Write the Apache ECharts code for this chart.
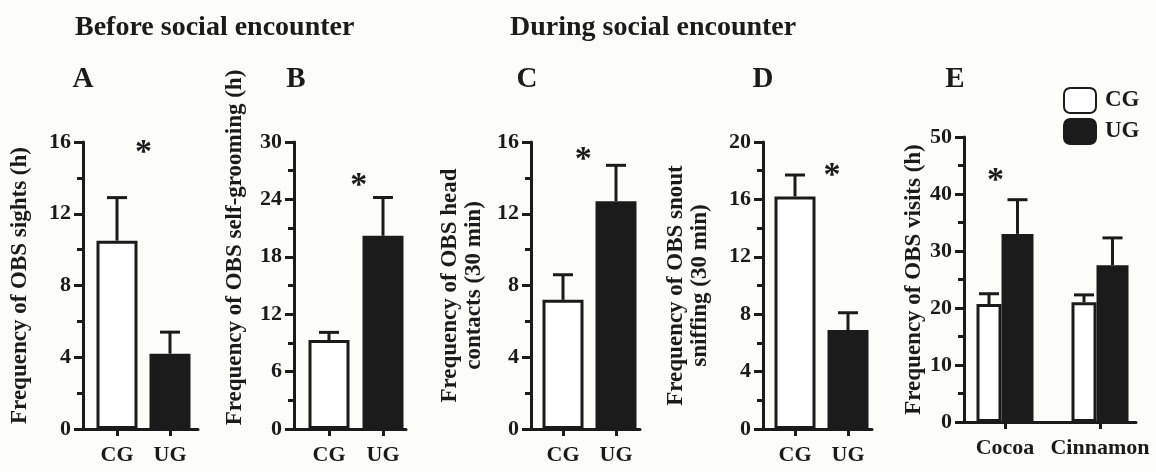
<!DOCTYPE html>
<html lang="en">
<head>
<meta charset="UTF-8">
<title>OBS behaviour</title>
<script src="https://cdn.jsdelivr.net/npm/echarts@6/dist/echarts.min.js"></script>
<style>
    html, body { margin: 0; padding: 0; background: #fcfcf8; }
    #main { width: 1156px; height: 472px; }
</style>
</head>
<body>
<div id="main"></div>
<script type="text/javascript">

    // values (mean and top of the error bar)
    var groups = ['CG', 'UG'];
    var odors = ['Cocoa', 'Cinnamon'];

    var sightsMean = [10.5, 4.2];
    var sightsTop = [12.9, 5.4];
    var groomMean = [9.3, 20.2];
    var groomTop = [10.1, 24.2];
    var headMean = [7.2, 12.7];
    var headTop = [8.6, 14.7];
    var snoutMean = [16.2, 6.9];
    var snoutTop = [17.7, 8.1];

    var visitsCG = [20.7, 21.0];
    var visitsCGTop = [22.5, 22.3];
    var visitsUG = [33.0, 27.5];
    var visitsUGTop = [39.0, 32.3];

    // significance stars [x in group units, y in axis units]
    var stars = [[0.5, 15.4], [0.55, 25.4], [0.38, 15.0], [0.7, 17.6], [-0.1, 42.2]];

    var ink = '#1b1b1b';
    var serif = '"Liberation Serif", "Times New Roman", serif';

    // layout of each panel in pixels: y axis x, end of x axis, first group centre, group step
    var panels = [
        {axis: 83, end: 198, c1: 117, step: 53, top: 142, bottom: 429, max: 16, interval: 4,
            name: 'Frequency of OBS sights (h)', gap: 51, pad: 0, mean: sightsMean, hi: sightsTop},
        {axis: 294, end: 406, c1: 329, step: 54, top: 142, bottom: 429, max: 30, interval: 6,
            name: 'Frequency of OBS self-grooming (h)', gap: 47, pad: 76, mean: groomMean, hi: groomTop},
        {axis: 531, end: 640, c1: 563, step: 53, top: 142, bottom: 429, max: 16, interval: 4,
            name: 'Frequency of OBS head\ncontacts (30 min)', gap: 45, pad: 0, mean: headMean, hi: headTop},
        {axis: 763, end: 872, c1: 795, step: 53, top: 142, bottom: 429, max: 20, interval: 4,
            name: 'Frequency of OBS snout\nsniffing (30 min)', gap: 51, pad: 0, mean: snoutMean, hi: snoutTop},
        {axis: 964, end: 1136, c1: 1005, step: 95, top: 137, bottom: 422, max: 50, interval: 10,
            name: 'Frequency of OBS visits (h)', gap: 31, pad: 0}
    ];

    var grids = [], xAxes = [], yAxes = [], series = [];

    function errorItem(offset) {
        return function (params, api) {
            var base = api.coord([api.value(0), api.value(1)]);
            var tip = api.coord([api.value(0), api.value(2)]);
            var x = base[0] + offset;
            return {
                type: 'group',
                children: [
                    {type: 'line', shape: {x1: x, y1: base[1], x2: x, y2: tip[1]},
                        style: {stroke: ink, lineWidth: 3}},
                    {type: 'line', shape: {x1: x - 10, y1: tip[1], x2: x + 10, y2: tip[1]},
                        style: {stroke: ink, lineWidth: 3}}
                ]
            };
        };
    }

    function starItem(params, api) {
        var p = api.coord([api.value(0), api.value(1)]);
        return {
            type: 'text', x: p[0], y: p[1],
            style: {text: '*', font: 'bold 34px ' + serif, fill: ink, align: 'center', verticalAlign: 'middle'}
        };
    }

    panels.forEach(function (p, i) {
        var labels = i === 4 ? odors : groups;
        grids.push({left: p.axis, top: p.top, width: p.end - p.axis, height: p.bottom - p.top,
            outerBoundsMode: 'none'});
        xAxes.push({
            type: 'value', gridIndex: i,
            min: (p.axis - p.c1) / p.step, max: (p.end - p.c1) / p.step,
            axisLine: {show: true, onZero: false, lineStyle: {color: ink, width: 3}},
            axisTick: {show: true, customValues: [0, 1], length: 7, lineStyle: {color: ink, width: 3}},
            axisLabel: {
                show: true, customValues: [0, 1], margin: 15,
                fontFamily: serif, fontSize: 22, fontWeight: 'bold', color: ink,
                formatter: function (v) { return labels[Math.round(v)]; }
            },
            splitLine: {show: false}
        });
        yAxes.push({
            type: 'value', gridIndex: i, min: 0, max: p.max, interval: p.interval,
            name: p.name, nameLocation: 'middle', nameGap: p.gap,
            nameTextStyle: {fontFamily: serif, fontSize: 23, fontWeight: 'bold', color: ink,
                lineHeight: 24, padding: [0, 0, 0, p.pad]},
            axisLine: {show: true, onZero: false, lineStyle: {color: ink, width: 3}},
            axisTick: {show: true, length: 9, lineStyle: {color: ink, width: 3}},
            minorTick: {show: true, splitNumber: 2, length: 6, lineStyle: {color: ink, width: 3}},
            axisLabel: {margin: 12, fontFamily: serif, fontSize: 22, fontWeight: 'bold', color: ink},
            splitLine: {show: false}
        });

        if (i < 4) {
            series.push({
                type: 'bar', name: 'CG', xAxisIndex: i, yAxisIndex: i, barWidth: 41, barGap: '-100%',
                data: [[0, p.mean[0]]], silent: true,
                itemStyle: {color: '#ffffff', borderColor: ink, borderWidth: 3}
            });
            series.push({
                type: 'bar', name: 'UG', xAxisIndex: i, yAxisIndex: i, barWidth: 41, barGap: '-100%',
                data: [[1, p.mean[1]]], silent: true,
                itemStyle: {color: ink, borderColor: ink, borderWidth: 3}
            });
            series.push({
                type: 'custom', xAxisIndex: i, yAxisIndex: i, silent: true, z: 3,
                renderItem: errorItem(0), encode: {x: 0, y: [1, 2]},
                data: [[0, p.mean[0], p.hi[0]], [1, p.mean[1], p.hi[1]]]
            });
        }
        series.push({
            type: 'custom', xAxisIndex: i, yAxisIndex: i, silent: true, z: 4,
            renderItem: starItem, encode: {x: 0, y: 1}, data: [stars[i]]
        });
    });

    // panel E: two odours, CG and UG side by side
    series.push({
        type: 'bar', name: 'CG', xAxisIndex: 4, yAxisIndex: 4, barWidth: 25, barGap: '0%', silent: true,
        data: [[0, visitsCG[0]], [1, visitsCG[1]]],
        itemStyle: {color: '#ffffff', borderColor: ink, borderWidth: 3}
    });
    series.push({
        type: 'bar', name: 'UG', xAxisIndex: 4, yAxisIndex: 4, barWidth: 32, barGap: '0%', silent: true,
        data: [[0, visitsUG[0]], [1, visitsUG[1]]],
        itemStyle: {color: ink, borderColor: ink, borderWidth: 3}
    });
    series.push({
        type: 'custom', xAxisIndex: 4, yAxisIndex: 4, silent: true, z: 3,
        renderItem: errorItem(-16), encode: {x: 0, y: [1, 2]},
        data: [[0, visitsCG[0], visitsCGTop[0]], [1, visitsCG[1], visitsCGTop[1]]]
    });
    series.push({
        type: 'custom', xAxisIndex: 4, yAxisIndex: 4, silent: true, z: 3,
        renderItem: errorItem(12.5), encode: {x: 0, y: [1, 2]},
        data: [[0, visitsUG[0], visitsUGTop[0]], [1, visitsUG[1], visitsUGTop[1]]]
    });

    var headFont = 'bold 28px ' + serif;
    var letterFont = 'bold 29px ' + serif;
    function label(text, x, y, font, align) {
        return {type: 'text', x: x, y: y,
            style: {text: text, font: font, fill: ink, align: align || 'center', verticalAlign: 'middle'}};
    }

    var option = {
        backgroundColor: '#fcfcf8',
        animation: false,
        grid: grids,
        xAxis: xAxes,
        yAxis: yAxes,
        legend: {
            data: ['CG', 'UG'], orient: 'vertical', left: 1058, top: 82,
            itemWidth: 32, itemHeight: 25, itemGap: 4, icon: 'roundRect', selectedMode: false,
            textStyle: {fontFamily: serif, fontSize: 23, fontWeight: 'bold', color: ink,
                padding: [0, 0, 0, 4]}
        },
        graphic: [
            label('Before social encounter', 75, 28, headFont, 'left'),
            label('During social encounter', 510, 28, headFont, 'left'),
            label('A', 83, 80, letterFont),
            label('B', 296, 80, letterFont),
            label('C', 527, 80, letterFont),
            label('D', 763, 80, letterFont),
            label('E', 955, 80, letterFont)
        ],
        series: series
    };

    var myChart = echarts.init(document.getElementById('main'));
    myChart.setOption(option);
</script>
</body>
</html>
